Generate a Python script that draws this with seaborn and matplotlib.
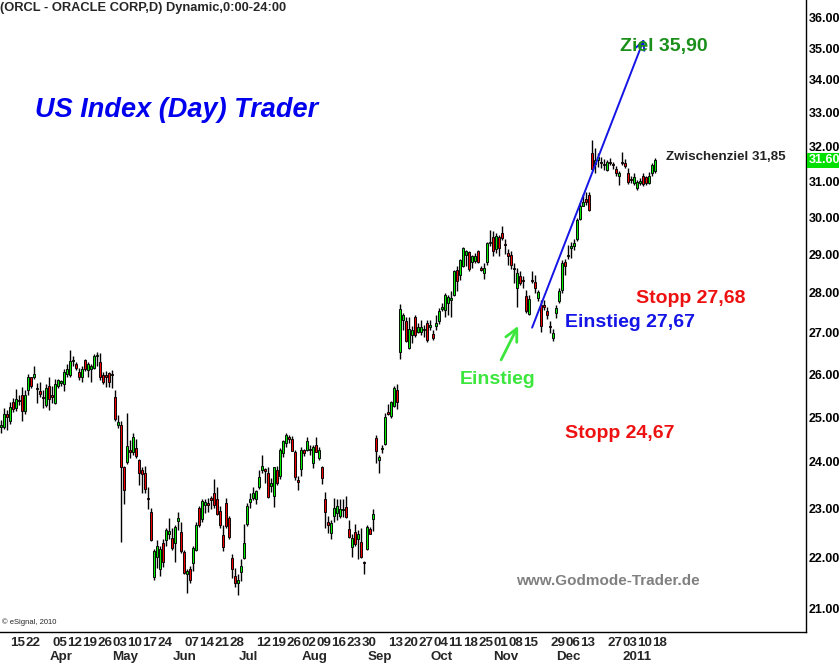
import numpy as np
import pandas as pd
import seaborn as sns
import matplotlib
matplotlib.use("Agg")
from matplotlib import pyplot as plt
from matplotlib import ticker
from matplotlib.transforms import blended_transform_factory

# ORCL daily candles, Mar 2010 - Jan 2011
opens = [24.77, 24.78, 25.06, 24.90, 25.35, 25.20, 25.39, 25.50, 25.14, 25.62,
         25.92, 25.92, 25.66, 25.60, 25.46, 25.28, 25.73, 25.50, 25.33, 25.73,
         25.80, 25.77, 26.00, 25.97, 26.30, 26.23, 26.05, 25.94, 26.33, 26.09,
         26.11, 26.14, 26.43, 26.28, 25.98, 25.97, 26.02, 26.00, 25.46, 24.83,
         24.82, 23.88, 24.00, 24.24, 24.22, 24.30, 24.05, 23.83, 23.76, 23.20,
         22.93, 21.60, 22.00, 21.76, 22.28, 22.35, 22.47, 22.39, 22.28, 22.73,
         22.51, 22.11, 21.66, 21.76, 21.88, 22.14, 23.00, 22.78, 23.08, 23.09,
         23.23, 23.33, 23.20, 22.95, 22.45, 23.12, 22.80, 21.99, 21.62, 21.48,
         21.71, 21.99, 22.68, 23.14, 23.23, 23.20, 23.46, 23.82, 23.83, 23.75,
         23.47, 23.26, 23.82, 23.69, 24.19, 24.42, 24.53, 24.50, 24.21, 23.61,
         23.85, 24.27, 24.26, 24.27, 23.98, 24.37, 24.08, 23.88, 23.20, 22.71,
         22.50, 22.84, 22.91, 22.84, 22.96, 23.04, 22.57, 22.21, 22.51, 22.37,
         22.31, 21.90, 22.17, 22.57, 22.78, 24.52, 24.05, 24.28, 24.40, 25.10,
         25.03, 25.25, 25.62, 26.54, 27.32, 27.30, 26.62, 26.94, 27.40, 27.02,
         27.02, 27.06, 27.23, 27.13, 26.97, 27.17, 27.28, 27.60, 27.57, 27.75,
         27.82, 27.95, 28.60, 28.47, 28.70, 28.98, 29.05, 28.79, 28.82, 29.10,
         28.64, 28.51, 28.79, 29.30, 29.47, 29.14, 29.47, 29.56, 29.25, 29.03,
         28.99, 28.64, 28.12, 28.42, 28.34, 27.92, 27.47, 28.31, 28.27, 27.86,
         27.69, 27.69, 27.53, 27.16, 26.88, 27.50, 27.78, 28.06, 28.81, 28.95,
         29.17, 29.21, 29.40, 29.95, 30.32, 30.51, 30.62, 31.80, 31.49, 31.60,
         31.56, 31.49, 31.33, 31.56, 31.48, 31.36, 31.16, 31.56, 31.51, 31.22,
         31.03, 30.94, 30.82, 30.94, 31.14, 31.12, 30.96, 31.22, 31.29]
highs = [24.93, 25.20, 25.16, 25.35, 25.44, 25.64, 25.50, 25.70, 25.62, 26.00,
         25.94, 26.19, 25.78, 25.82, 25.62, 25.77, 25.92, 25.73, 25.89, 25.89,
         25.87, 26.11, 26.23, 26.57, 26.43, 26.29, 26.14, 26.18, 26.37, 26.29,
         26.25, 26.48, 26.53, 26.50, 26.05, 26.07, 26.05, 26.09, 25.62, 25.04,
         24.90, 23.90, 25.10, 24.48, 24.65, 24.50, 24.07, 23.88, 23.90, 23.46,
         23.00, 22.16, 22.35, 22.23, 22.37, 22.59, 22.81, 22.59, 22.66, 22.93,
         22.72, 22.15, 21.76, 21.83, 22.23, 22.72, 23.05, 23.20, 23.19, 23.23,
         23.26, 23.63, 23.45, 23.05, 22.66, 23.23, 22.84, 22.07, 21.79, 21.66,
         21.96, 22.68, 23.12, 23.33, 23.46, 23.40, 23.82, 24.15, 23.87, 23.89,
         23.64, 23.89, 23.90, 24.30, 24.49, 24.63, 24.60, 24.57, 24.26, 23.70,
         24.33, 24.28, 24.55, 24.37, 24.37, 24.55, 24.33, 23.90, 23.35, 22.85,
         22.77, 23.23, 23.20, 23.19, 23.19, 23.27, 22.77, 22.48, 22.68, 22.56,
         22.59, 21.92, 22.66, 22.62, 22.98, 24.59, 24.16, 24.38, 25.10, 25.30,
         25.36, 25.73, 25.77, 27.72, 27.50, 27.40, 27.40, 27.16, 27.44, 27.23,
         27.32, 27.20, 27.32, 27.32, 27.06, 27.44, 27.61, 27.75, 28.00, 27.95,
         28.04, 28.60, 28.68, 28.88, 29.19, 29.12, 29.10, 28.99, 29.04, 29.12,
         28.70, 28.77, 29.33, 29.65, 29.63, 29.58, 29.52, 29.76, 29.42, 29.14,
         29.08, 28.77, 28.64, 28.55, 28.43, 28.08, 27.95, 28.55, 28.47, 28.08,
         27.82, 27.82, 27.65, 27.28, 27.10, 27.69, 28.12, 28.84, 28.88, 29.25,
         29.32, 29.42, 29.98, 30.38, 30.65, 30.70, 30.70, 32.18, 31.95, 31.80,
         31.70, 31.62, 31.60, 31.65, 31.56, 31.43, 31.29, 31.85, 31.62, 31.38,
         31.16, 31.23, 31.03, 31.08, 31.22, 31.16, 31.25, 31.53, 31.66]
lows = [24.64, 24.73, 24.71, 24.85, 25.11, 25.14, 25.28, 24.92, 25.08, 25.50,
        25.66, 25.89, 25.33, 25.46, 25.20, 25.24, 25.16, 25.32, 25.30, 25.66,
        25.72, 25.60, 25.94, 25.92, 26.18, 26.09, 25.87, 25.82, 26.07, 25.92,
        25.82, 26.11, 26.18, 25.87, 25.77, 25.70, 25.70, 25.66, 24.90, 24.76,
        22.30, 23.10, 23.95, 24.08, 24.16, 24.08, 23.50, 23.33, 23.32, 22.99,
        22.33, 21.55, 21.78, 21.63, 21.81, 22.23, 22.37, 22.15, 21.90, 22.56,
        22.08, 21.66, 21.30, 21.48, 21.72, 22.13, 22.61, 22.72, 22.90, 22.92,
        22.98, 23.00, 22.86, 22.59, 22.13, 22.59, 22.37, 21.58, 21.41, 21.25,
        21.53, 21.97, 22.64, 23.02, 23.18, 23.10, 23.42, 23.75, 23.55, 23.23,
        23.34, 23.04, 23.50, 23.62, 24.10, 24.33, 24.41, 24.23, 23.61, 23.39,
        23.69, 24.12, 24.23, 24.15, 23.86, 24.21, 24.05, 23.53, 22.60, 22.50,
        22.36, 22.72, 22.77, 22.80, 22.82, 22.81, 22.39, 22.00, 22.23, 21.96,
        21.99, 21.66, 22.14, 22.47, 22.53, 23.97, 23.76, 24.19, 24.37, 25.04,
        24.99, 25.23, 25.18, 26.37, 27.06, 26.78, 26.59, 26.75, 26.90, 26.98,
        26.94, 26.90, 26.78, 27.06, 26.83, 27.06, 27.22, 27.53, 27.40, 27.44,
        27.40, 27.92, 28.04, 28.33, 28.66, 28.68, 28.55, 28.64, 28.77, 28.77,
        28.55, 28.35, 28.73, 29.21, 28.95, 29.03, 28.95, 29.38, 29.02, 28.73,
        28.62, 28.25, 27.63, 28.21, 28.12, 27.49, 27.44, 28.25, 28.00, 27.78,
        27.02, 27.57, 27.34, 26.98, 26.80, 27.36, 27.74, 28.00, 28.47, 28.88,
        28.90, 29.12, 29.36, 29.93, 30.30, 30.34, 30.17, 31.32, 31.22, 31.41,
        31.38, 31.33, 31.29, 31.47, 31.36, 31.16, 30.89, 31.47, 31.38, 30.92,
        30.94, 30.89, 30.75, 30.89, 30.86, 30.89, 30.92, 31.16, 31.23]
closes = [24.82, 25.08, 25.00, 25.24, 25.18, 25.41, 25.36, 25.14, 25.50, 25.94,
          25.73, 26.00, 25.64, 25.53, 25.44, 25.66, 25.42, 25.46, 25.77, 25.85,
          25.82, 26.05, 26.12, 26.30, 26.33, 26.14, 25.92, 26.12, 26.11, 26.23,
          26.19, 26.43, 26.45, 25.92, 25.82, 25.94, 25.82, 25.97, 24.95, 24.88,
          23.88, 23.39, 24.35, 24.22, 24.55, 24.13, 23.75, 23.73, 23.41, 23.19,
          22.35, 22.13, 22.23, 22.16, 21.91, 22.56, 22.54, 22.19, 22.61, 22.80,
          22.12, 21.69, 21.72, 21.55, 22.18, 22.66, 22.66, 23.16, 23.14, 23.08,
          23.18, 23.08, 22.88, 22.66, 22.21, 22.64, 22.42, 21.76, 21.48, 21.55,
          21.83, 22.28, 23.06, 23.19, 23.33, 23.36, 23.68, 23.90, 23.81, 23.25,
          23.55, 23.88, 23.54, 24.27, 24.46, 24.59, 24.51, 24.24, 23.68, 23.56,
          24.26, 24.19, 24.46, 24.26, 24.33, 24.22, 24.26, 23.64, 22.92, 22.65,
          22.70, 23.01, 23.06, 22.98, 22.98, 22.83, 22.41, 22.39, 22.26, 22.48,
          22.01, 21.88, 22.62, 22.48, 22.89, 24.23, 24.10, 24.30, 25.00, 25.08,
          25.34, 25.68, 25.35, 27.60, 27.44, 26.80, 27.10, 27.06, 26.94, 27.15,
          27.14, 27.07, 26.82, 27.19, 26.86, 27.25, 27.53, 27.65, 27.95, 27.89,
          27.86, 28.55, 28.29, 28.86, 29.16, 29.08, 28.62, 28.95, 28.95, 28.79,
          28.60, 28.64, 29.29, 29.31, 29.08, 29.49, 29.16, 29.43, 29.24, 28.96,
          28.73, 28.62, 28.51, 28.25, 28.30, 27.53, 27.84, 28.29, 28.13, 28.01,
          27.17, 27.65, 27.44, 27.13, 26.98, 27.61, 28.04, 28.77, 28.68, 28.99,
          29.21, 29.29, 29.91, 30.32, 30.42, 30.42, 30.20, 31.35, 31.60, 31.68,
          31.53, 31.47, 31.56, 31.51, 31.47, 31.22, 31.23, 31.53, 31.44, 30.98,
          31.02, 31.12, 30.98, 31.01, 30.92, 30.94, 31.16, 31.45, 31.60]

holidays = ["2010-04-02", "2010-05-31", "2010-07-05", "2010-09-06",
            "2010-11-25", "2010-12-24", "2011-01-17"]
day_ticks = ["2010-03-15", "2010-03-22", "2010-04-05", "2010-04-12", "2010-04-19",
             "2010-04-26", "2010-05-03", "2010-05-10", "2010-05-17", "2010-05-24",
             "2010-06-07", "2010-06-14", "2010-06-21", "2010-06-28", "2010-07-12",
             "2010-07-19", "2010-07-26", "2010-08-02", "2010-08-09", "2010-08-16",
             "2010-08-23", "2010-08-30", "2010-09-13", "2010-09-20", "2010-09-27",
             "2010-10-04", "2010-10-11", "2010-10-18", "2010-10-25", "2010-11-01",
             "2010-11-08", "2010-11-15", "2010-11-29", "2010-12-06", "2010-12-13",
             "2010-12-27", "2011-01-03", "2011-01-10", "2011-01-18"]
month_names = ["Apr", "May", "Jun", "Jul", "Aug", "Sep", "Oct", "Nov", "Dec", "2011"]
y_ticks = list(range(21, 37))
last_price = 31.60

# trade idea drawn on the chart
ziel_line = ((176.7, 27.06), (214.7, 35.38))
einstieg_arrow = ((166.3, 26.28), (172.8, 27.23))

n = len(closes)
assert len(opens) == len(highs) == len(lows) == n
all_days = pd.bdate_range("2010-03-01", "2011-01-18", freq="C", holidays=holidays)
df = pd.DataFrame({"date": all_days[-n:], "open": opens, "high": highs,
                   "low": lows, "close": closes})
df["x"] = np.arange(n)
df["up"] = df["close"] >= df["open"]

sns.set_style("white")
plt.rcParams["font.family"] = ["Liberation Sans", "DejaVu Sans"]

fig = plt.figure(figsize=(8.39, 6.63), dpi=100)
ax = fig.add_axes([0, 31 / 663, 806 / 839, 632 / 663])

ax.vlines(df["x"], df["low"], df["high"], color="black", lw=1.0, zorder=2)
body_lo = df[["open", "close"]].min(axis=1)
body_h = (df["close"] - df["open"]).abs().clip(lower=0.03)
colors = np.where(df["up"], "#00f000", "#f00000")
ax.bar(df["x"], body_h, bottom=body_lo, width=0.85, color=colors,
       edgecolor="black", linewidth=0.65, zorder=3)

ax.set_yscale("log")
ax.set_ylim(20.55, 36.57)
ax.set_xlim(-0.33, 268.33)
ax.yaxis.tick_right()
ax.yaxis.set_major_locator(ticker.FixedLocator(y_ticks))
ax.yaxis.set_major_formatter(ticker.FormatStrFormatter("%.2f"))
ax.yaxis.set_minor_locator(ticker.NullLocator())
ax.yaxis.set_minor_formatter(ticker.NullFormatter())
ax.tick_params(axis="y", length=0, pad=2, labelsize=9, labelcolor="black")
for lab in ax.get_yticklabels():
    lab.set_fontweight("bold")
ax.set_xticks([])
for side in ["left", "top"]:
    ax.spines[side].set_visible(False)
for side in ["right", "bottom"]:
    ax.spines[side].set_color("black")
    ax.spines[side].set_linewidth(1)

# date labels under the axis
xt = blended_transform_factory(ax.transData, ax.transAxes)
for d in day_ticks:
    i = df.index[df["date"] == pd.Timestamp(d)][0]
    ax.text(i - 0.9, -0.0175, pd.Timestamp(d).strftime("%d"), transform=xt,
            ha="left", va="center", fontsize=9.6, fontweight="bold")
firsts = df.groupby(df["date"].dt.to_period("M"))["x"].min().iloc[1:]
for name, i in zip(month_names, firsts):
    ax.text(i - 0.8, -0.04, name, transform=xt, ha="left", va="center",
            fontsize=9.6, fontweight="bold")

# last price tag
yt = blended_transform_factory(ax.transAxes, ax.transData)
ax.text(1.003, last_price, "31.60", transform=yt, ha="left", va="center",
        fontsize=9, fontweight="bold", color="white",
        bbox=dict(boxstyle="square,pad=0.12", fc="#00e000", ec="none"))

ax.annotate("", xy=ziel_line[1], xytext=ziel_line[0],
            arrowprops=dict(arrowstyle="->", color="#1414e6", lw=1.4,
                            mutation_scale=16), zorder=4)
ax.annotate("", xy=einstieg_arrow[1], xytext=einstieg_arrow[0],
            arrowprops=dict(arrowstyle="->", color="#3ce63c", lw=2,
                            mutation_scale=22), zorder=4)


def put(px, py, s, **kw):
    fig.text(px / 839, 1 - py / 663, s, ha="left", va="center", **kw)


put(0, 8, "(ORCL - ORACLE CORP,D) Dynamic,0:00-24:00", fontsize=9.3, fontweight="bold")
put(35, 110, "US Index (Day) Trader", fontsize=19.5, fontweight="bold",
    fontstyle="italic", color="#0000ee")
put(620, 46, "Ziel 35,90", fontsize=14, fontweight="bold", color="#1a8f1a")
put(666, 157, "Zwischenziel 31,85", fontsize=9.6, fontweight="bold", color="#222222")
put(636, 299, "Stopp 27,68", fontsize=14, fontweight="bold", color="#ee1111")
put(565, 322, "Einstieg 27,67", fontsize=14, fontweight="bold", color="#1414e6")
put(460, 380, "Einstieg", fontsize=14, fontweight="bold", color="#3ce63c")
put(565, 434, "Stopp 24,67", fontsize=14, fontweight="bold", color="#ee1111")
put(516, 581, "www.Godmode-Trader.de", fontsize=11, fontweight="bold", color="#808080")
put(2, 622, "\u00a9 eSignal, 2010", fontsize=5.5)

fig.savefig("out.png", dpi=100)
